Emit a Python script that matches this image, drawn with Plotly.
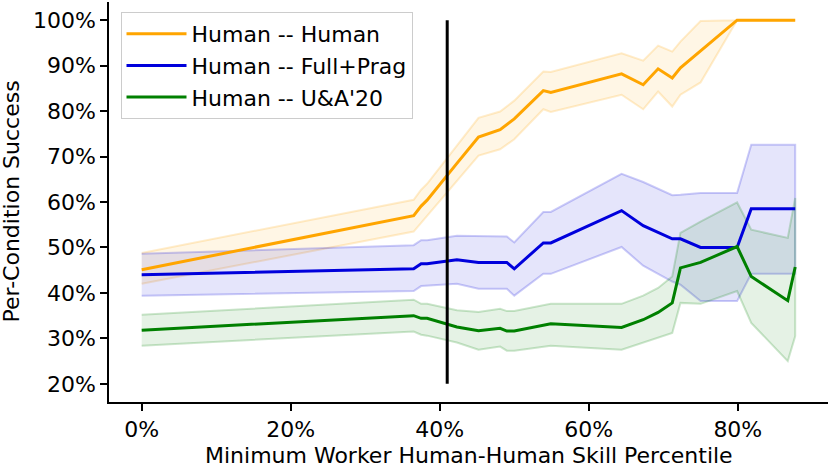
import plotly.graph_objects as go

# skill percentile thresholds (x axis, %)
percentile = [0, 36.5, 37.5, 38.3, 42.3, 45.2, 48.1, 49.0, 50.0, 53.9, 54.9,
              64.4, 67.3, 69.3, 71.2, 72.3, 75.0, 79.9, 81.8, 86.7, 87.7]

# Human -- Human
hh_mean = [45.1, 57.0, 59.1, 60.4, 68.5, 74.3, 75.9, 77.0, 78.3, 84.5, 84.1,
           88.2, 85.8, 89.3, 87.3, 89.5, 93.2, 100, 100, 100, 100]
hh_upper = [48.8, 60.5, 62.7, 64.0, 72.4, 78.5, 79.9, 81.0, 82.3, 88.7, 88.6,
            92.7, 91.1, 94.4, 93.1, 95.3, 99.8, 100, 100, 100, 100]
hh_lower = [42.0, 53.5, 55.5, 56.8, 64.6, 70.2, 71.6, 72.7, 73.8, 80.4, 79.8,
            83.6, 80.4, 84.3, 81.0, 83.6, 86.3, 100, 100, 100, 100]

# Human -- Full+Prag
fp_mean = [44.0, 45.3, 46.4, 46.4, 47.3, 46.7, 46.7, 46.7, 45.3, 51.0, 51.0,
           58.1, 54.8, 53.3, 51.9, 51.9, 50.0, 50.0, 58.5, 58.5, 58.5]
fp_upper = [48.6, 50.5, 51.6, 51.6, 52.6, 52.5, 52.4, 52.4, 51.1, 57.8, 57.8,
            66.2, 64.4, 62.9, 61.5, 61.6, 62.0, 62.0, 72.6, 72.6, 72.6]
fp_lower = [39.4, 40.4, 41.5, 41.5, 42.0, 40.9, 40.9, 40.9, 39.4, 44.2, 44.2,
            50.1, 46.0, 44.2, 42.5, 41.8, 38.2, 38.2, 44.2, 44.2, 44.2]

# Human -- U&A'20
ua_mean = [31.8, 35.0, 34.4, 34.4, 32.5, 31.7, 32.2, 31.6, 31.6, 32.9, 33.2,
           32.4, 34.1, 35.7, 37.8, 45.5, 46.7, 50.2, 43.6, 38.3, 45.7]
ua_upper = [35.2, 38.5, 37.6, 37.6, 36.2, 35.8, 36.5, 36.0, 36.0, 37.2, 37.6,
            37.6, 39.4, 41.1, 43.6, 53.2, 55.7, 59.9, 53.9, 52.1, 60.9]
ua_lower = [28.4, 31.5, 30.8, 30.6, 29.1, 27.5, 28.2, 27.3, 27.3, 28.2, 28.4,
            27.5, 29.0, 30.2, 31.2, 37.8, 37.6, 40.4, 33.4, 25.0, 30.5]

cutoff_x = [41.0, 41.0]
cutoff_y = [20, 100]

x_ticks = [0, 20, 40, 60, 80]
y_ticks = [20, 30, 40, 50, 60, 70, 80, 90, 100]

series = [
    ('Human -- Human', hh_mean, hh_upper, hh_lower, (255, 165, 0)),
    ('Human -- Full+Prag', fp_mean, fp_upper, fp_lower, (0, 0, 220)),
    ("Human -- U&A'20", ua_mean, ua_upper, ua_lower, (0, 128, 0)),
]

FONT = 'DejaVu Sans'
SIZE = 22

fig = go.Figure()

# confidence bands first
for name, mean, upper, lower, (r, g, b) in series:
    fig.add_trace(go.Scatter(
        x = percentile + percentile[::-1],
        y = upper + lower[::-1],
        fill = 'toself',
        fillcolor = f'rgba({r},{g},{b},0.1)',
        line = dict(color=f'rgba({r},{g},{b},0.2)', width=2),
        mode = 'lines',
        hoverinfo = 'skip',
        showlegend = False,
    ))

for name, mean, upper, lower, (r, g, b) in series:
    fig.add_trace(go.Scatter(
        x = percentile,
        y = mean,
        mode = 'lines',
        name = name,
        line = dict(color=f'rgb({r},{g},{b})', width=3),
    ))

fig.add_trace(go.Scatter(
    x = cutoff_x,
    y = cutoff_y,
    mode = 'lines',
    line = dict(color='black', width=3),
    showlegend = False,
))

axis_common = dict(
    showgrid = False,
    zeroline = False,
    showline = True,
    linecolor = 'black',
    linewidth = 1.6,
    ticks = 'outside',
    ticklen = 7,
    tickwidth = 1.6,
    tickcolor = 'black',
    tickmode = 'array',
    automargin = False,
    tickfont = dict(family=FONT, size=SIZE, color='black'),
)

fig.update_layout(
    width = 830,
    height = 467,
    margin = dict(l=109, r=2, t=2, b=65),
    plot_bgcolor = 'white',
    paper_bgcolor = 'white',
    font = dict(family=FONT, size=SIZE, color='black'),
    xaxis = dict(
        axis_common,
        range = [-4.385, 92.1],
        tickvals = x_ticks,
        ticktext = [f'{v}%' for v in x_ticks],
    ),
    yaxis = dict(
        axis_common,
        range = [16, 104],
        tickvals = y_ticks,
        ticktext = [f'{v}%' for v in y_ticks],
    ),
    legend = dict(
        x = 0.016,
        y = 0.975,
        xanchor = 'left',
        yanchor = 'top',
        bgcolor = 'rgba(255,255,255,0.8)',
        bordercolor = '#cccccc',
        borderwidth = 1,
        font = dict(family=FONT, size=SIZE),
        itemwidth = 60,
        tracegroupgap = 0,
    ),
    annotations = [
        dict(text='Minimum Worker Human-Human Skill Percentile',
             xref='paper', yref='paper', x=0.5, y=0, xanchor='center',
             yanchor='top', yshift=-39, showarrow=False,
             font=dict(family=FONT, size=SIZE)),
        dict(text='Per-Condition Success',
             xref='paper', yref='paper', x=0, y=0.5, xanchor='right',
             yanchor='middle', xshift=-84, textangle=-90, showarrow=False,
             font=dict(family=FONT, size=SIZE)),
    ],
)

# the page body has a default 8px margin; drop it so the figure fills the window
fig.write_html('out.html', config={'displayModeBar': False},
               post_script="document.body.style.margin='0';")
